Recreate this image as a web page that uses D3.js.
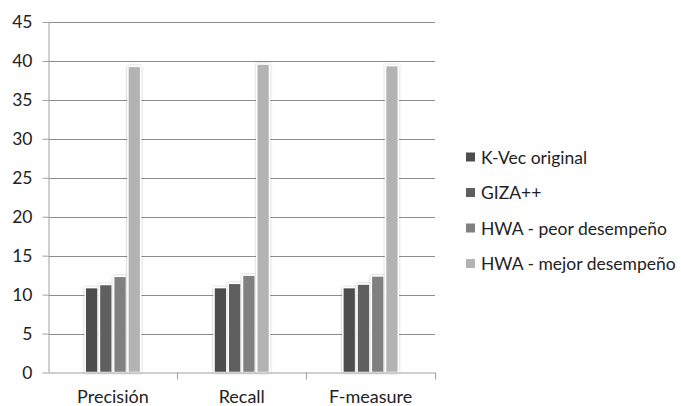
<!DOCTYPE html>
<html><head><meta charset="utf-8">
<script src="https://cdn.jsdelivr.net/npm/d3@7/dist/d3.min.js"></script>
<style>
html,body{margin:0;padding:0;background:#fff;}
svg text{font-family:Lato, "Open Sans", sans-serif;fill:#222;}
</style></head>
<body><svg id="chart" width="681" height="406"></svg>
<script>
const categories = ["Precisión", "Recall", "F-measure"];
const seriesNames = ["K-Vec original", "GIZA++", "HWA - peor desempeño", "HWA - mejor desempeño"];
const kvec = [10.9, 10.9, 10.9];
const giza = [11.3, 11.45, 11.35];
const hwaPeor = [12.35, 12.5, 12.4];
const hwaMejor = [39.3, 39.6, 39.4];
const yTicks = [0, 5, 10, 15, 20, 25, 30, 35, 40, 45];
const colors = ["#4d4d4d", "#5e5e5e", "#808080", "#b3b3b3"];

(function(){
const series = [kvec, giza, hwaPeor, hwaMejor];
const svg = d3.select("#chart");
const mLeft = 48.5, mRight = 435, mTop = 22, mBottom = 372.5;

const defs = svg.append("defs");
const f = defs.append("filter").attr("id","sh").attr("x","-30%").attr("y","-10%").attr("width","160%").attr("height","120%");
f.append("feDropShadow").attr("dx",0).attr("dy",0).attr("stdDeviation",1.2).attr("flood-color","#000").attr("flood-opacity",0.35);

const y = d3.scaleLinear().domain([0,45]).range([mBottom, mTop]);
const x0 = d3.scaleBand().domain(categories).range([mLeft, mRight]).paddingInner(0.558).paddingOuter(0.279);
const x1 = d3.scaleBand().domain(d3.range(4)).range([0, x0.bandwidth()]).padding(0);

svg.append("g").selectAll("line").data(yTicks.filter(d=>d>0)).join("line")
  .attr("x1", mLeft).attr("x2", mRight)
  .attr("y1", d=>Math.round(y(d))+0.5).attr("y2", d=>Math.round(y(d))+0.5)
  .attr("stroke", "#8c8c8c").attr("stroke-width",1);

const yAxis = d3.axisLeft(y).tickValues(yTicks).tickSize(6).tickPadding(10);
const gy = svg.append("g").attr("transform",`translate(${mLeft},0)`).call(yAxis);
gy.select(".domain").attr("stroke","#a0a0a0").attr("d", `M0.5,${mTop}V${mBottom}`);
gy.selectAll(".tick line").attr("stroke","#a0a0a0");
gy.selectAll(".tick text").attr("font-size", 17.5).attr("fill","#222").style("font-family","Lato");

const groups = svg.append("g").selectAll("g").data(categories).join("g")
  .attr("transform", c => `translate(${x0(c)},0)`);
groups.selectAll("rect").data((c,i)=>series.map((s,j)=>({j, v:s[i]}))).join("rect")
  .attr("x", d=>x1(d.j)+0.75).attr("width", x1.bandwidth()-1.5)
  .attr("y", d=>y(d.v)).attr("height", d=>mBottom - y(d.v))
  .attr("fill", d=>colors[d.j]).attr("stroke","#fff").attr("stroke-width",1.5)
  .attr("filter","url(#sh)");

const xAxisScale = d3.scaleLinear().domain([0,3]).range([mLeft,mRight]);
const gx = svg.append("g");
gx.append("line").attr("x1",mLeft).attr("x2",mRight).attr("y1",mBottom+0.5).attr("y2",mBottom+0.5).attr("stroke","#a0a0a0");
gx.selectAll("line.t").data([1,2,3]).join("line").attr("class","t")
  .attr("x1",d=>Math.round(xAxisScale(d))+0.5).attr("x2",d=>Math.round(xAxisScale(d))+0.5)
  .attr("y1",mBottom).attr("y2",mBottom+7).attr("stroke","#a0a0a0");
gx.selectAll("text").data(categories).join("text")
  .attr("x", c=>x0(c)+x0.bandwidth()/2).attr("y", 403)
  .attr("text-anchor","middle").attr("font-size",18).text(d=>d);

const lg = svg.append("g").selectAll("g").data(seriesNames).join("g")
  .attr("transform",(d,i)=>`translate(466,${157.5 + i*35.5})`);
lg.append("rect").attr("x",0).attr("y",-5).attr("width",9).attr("height",9).attr("fill",(d,i)=>colors[i]);
lg.append("text").attr("x",15).attr("y",0).attr("dy","0.36em").attr("font-size",17.5).text(d=>d);
})();
</script></body></html>
